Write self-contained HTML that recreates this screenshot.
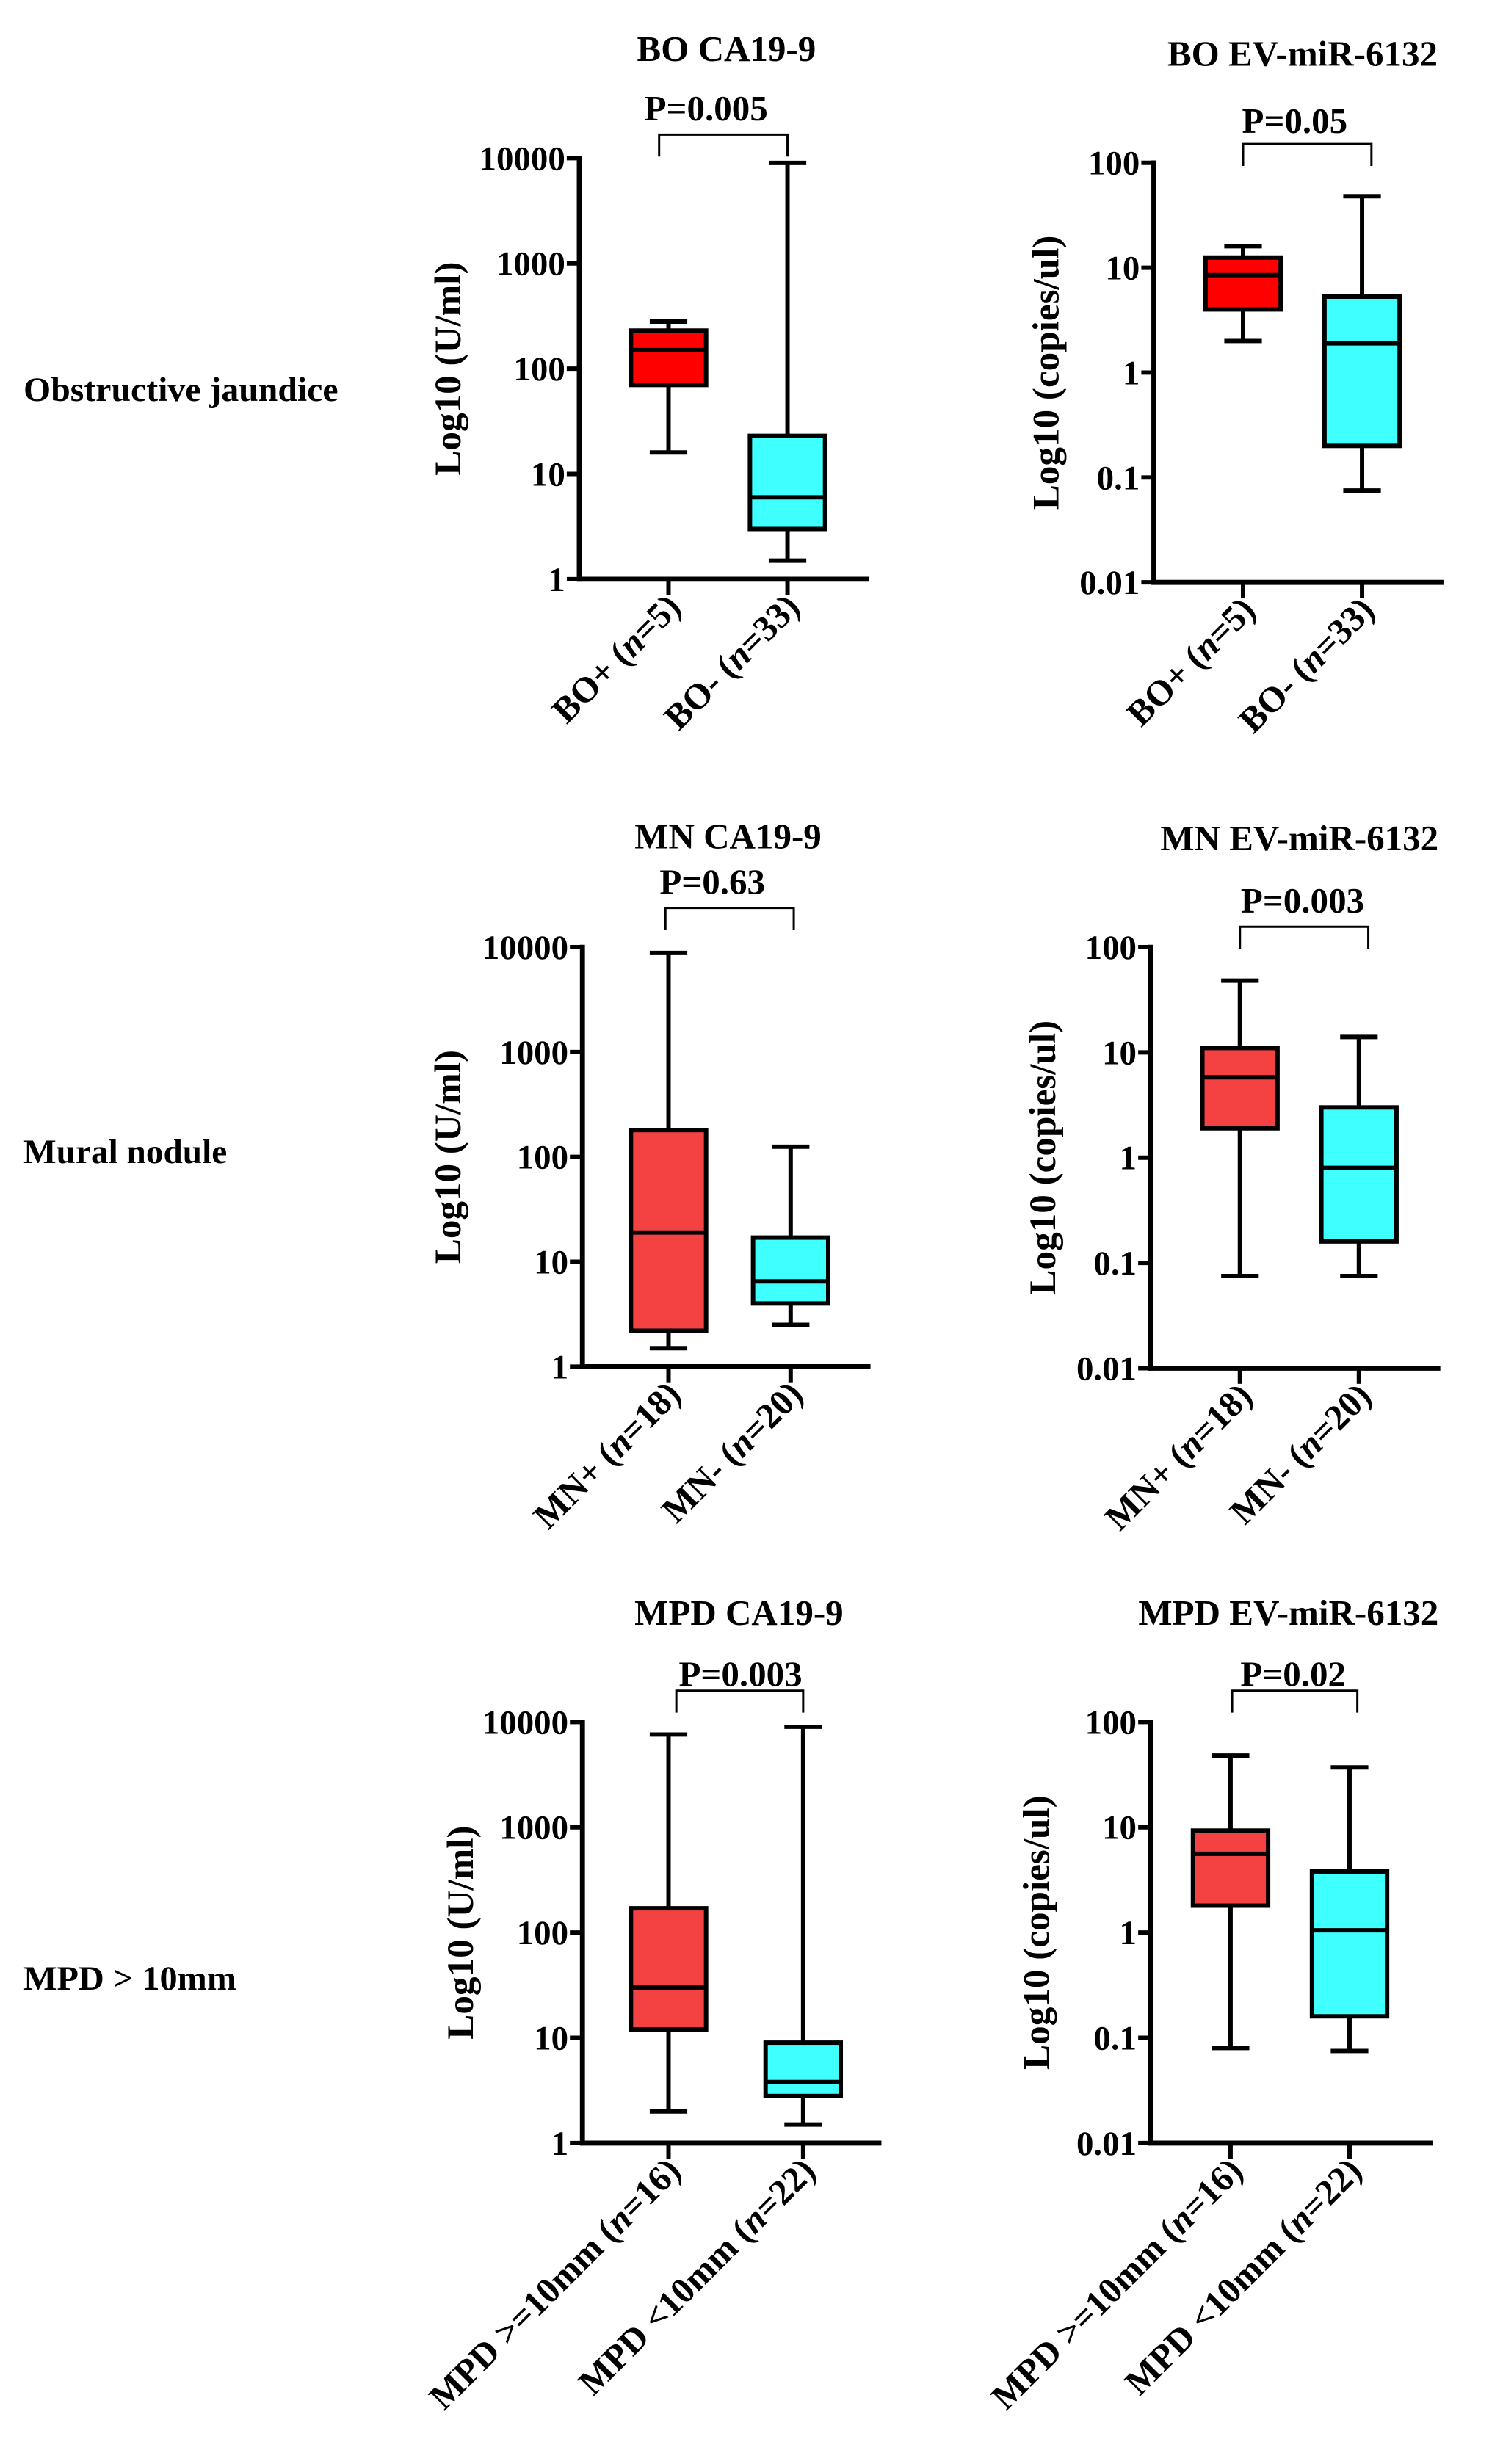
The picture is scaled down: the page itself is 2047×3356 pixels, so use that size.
<!DOCTYPE html>
<html><head><meta charset="utf-8"><style>
html,body{margin:0;padding:0;background:#fff;}
svg{display:block;}
text{font-family:"Liberation Serif",serif;font-weight:bold;fill:#000;}
</style></head><body>
<svg id="fig" width="2047" height="3356" viewBox="0 0 960 1574" xmlns="http://www.w3.org/2000/svg">
<text x="15" y="256" font-size="22" textLength="201" lengthAdjust="spacingAndGlyphs">Obstructive jaundice</text>
<text x="15" y="743" font-size="22" textLength="130" lengthAdjust="spacingAndGlyphs">Mural nodule</text>
<text x="15" y="1271" font-size="22" textLength="136" lengthAdjust="spacingAndGlyphs">MPD &gt; 10mm</text>
</svg>
<script>
// Panel data: [low whisker, Q1, median, Q3, high whisker]
const titles = ["BO CA19-9","BO EV-miR-6132","MN CA19-9","MN EV-miR-6132","MPD CA19-9","MPD EV-miR-6132"];
const pLabels = ["P=0.005","P=0.05","P=0.63","P=0.003","P=0.003","P=0.02"];
const catA = ["BO+","BO+","MN+","MN+","MPD >=10mm","MPD >=10mm"];
const catB = ["BO-","BO-","MN-","MN-","MPD <10mm","MPD <10mm"];
const nA = ["5","5","18","18","16","16"];
const nB = ["33","33","20","20","22","22"];
const groupA = [[16,70,150,230,280],[2,4,8.5,12.5,16],[1.5,2.2,19,180,8800],[0.075,1.9,5.8,11,48],[2,12,30,170,7600],[0.08,1.8,5.6,9.3,48]];
const groupB = [[1.5,3,6,23,9000],[0.075,0.2,1.9,5.3,48],[2.5,4,6.5,17,125],[0.075,0.16,0.8,3,14],[1.5,2.8,3.8,9,9000],[0.075,0.16,1.05,3.8,37]];
const ticksCA = ["1","10","100","1000","10000"];
const ticksEV = ["0.01","0.1","1","10","100"];

const L = [
 {ax:370,top:101,bot:370,end:555,cA:427,cB:503,ty:31,tx:464,py:69,px:451,by:86,b1:421,b2:503,lab:286,ev:false,colA:"#ff0000"},
 {ax:737,top:104,bot:372,end:922,cA:794,cB:870,ty:34,tx:832,py:77,px:827,by:92,b1:794,b2:876,lab:668,ev:true,colA:"#ff0000"},
 {ax:372,top:605,bot:873,end:556,cA:427,cB:505,ty:534,tx:465,py:563,px:455,by:580,b1:425,b2:507,lab:286,ev:false,colA:"#f44242"},
 {ax:735,top:605,bot:874,end:920,cA:792,cB:868,ty:535,tx:830,py:575,px:832,by:592,b1:792,b2:874,lab:666,ev:true,colA:"#f44242"},
 {ax:372,top:1100,bot:1369,end:563,cA:427,cB:513,ty:1030,tx:472,py:1069,px:473,by:1080,b1:432,b2:513,lab:294,ev:false,colA:"#f44242"},
 {ax:735,top:1100,bot:1369,end:915,cA:786,cB:862,ty:1030,tx:823,py:1069,px:826,by:1080,b1:787,b2:867,lab:662,ev:true,colA:"#f44242"}
];
const NS="http://www.w3.org/2000/svg";
const svg=document.getElementById('fig');
function mk(tag,attrs,parent){const e=document.createElementNS(NS,tag);for(const k in attrs)e.setAttribute(k,attrs[k]);(parent||svg).appendChild(e);return e;}
function line(g,x1,y1,x2,y2,w){return mk('line',{x1:x1,y1:y1,x2:x2,y2:y2,stroke:'#000','stroke-width':w},g);}

L.forEach((p,i)=>{
  const g=mk('g',{});
  
  
  const lo=p.ev?-2:0, hi=p.ev?2:4;
  const y=v=>p.bot-(Math.log10(v)-lo)/(hi-lo)*(p.bot-p.top);
  const t=mk('text',{x:p.tx,y:p.ty+8,'font-size':23,'text-anchor':'middle'},g);
  t.textContent=titles[i];
  
  
  const pt=mk('text',{x:p.px,y:p.py+8,'font-size':23,'text-anchor':'middle'},g);
  pt.textContent=pLabels[i];
  
  
  const br=mk('path',{d:`M${p.b1} ${p.by+14}V${p.by}H${p.b2}V${p.by+14}`,fill:'none',stroke:'#000','stroke-width':1.4},g);
  
  
  const ya=line(g,p.ax,p.top-1.5,p.ax,p.bot+1.5,3.2);
  
  
  const xa=line(g,p.ax-1.5,p.bot,p.end,p.bot,3.2);
  
  
  const tk=p.ev?ticksEV:ticksCA;
  tk.forEach((s,j)=>{
    const yy=y(parseFloat(s));
    line(g,p.ax-8,yy,p.ax,yy,2.8);
    const tl=mk('text',{x:p.ax-9,y:yy+7.5,'font-size':22,'text-anchor':'end'},g);
    tl.textContent=s;
    
    
  });
  const yl=mk('text',{x:0,y:0,'font-size':24,'text-anchor':'middle',transform:`translate(${p.lab+8},${(p.top+p.bot)/2}) rotate(-90)`},g);
  yl.textContent=p.ev?'Log10 (copies/ul)':'Log10 (U/ml)';
  
  
  [[p.cA,groupA[i],p.colA,catA[i],nA[i]],[p.cB,groupB[i],'#40ffff',catB[i],nB[i]]].forEach(([cx,d,col,cat,n],k)=>{
    const bg=mk('g',{},g);
    
    
    line(bg,cx,y(d[0]),cx,y(d[1]),2.8);
    line(bg,cx,y(d[3]),cx,y(d[4]),2.8);
    line(bg,cx-12,y(d[0]),cx+12,y(d[0]),2.8);
    line(bg,cx-12,y(d[4]),cx+12,y(d[4]),2.8);
    mk('rect',{x:cx-24,y:y(d[3]),width:48,height:y(d[1])-y(d[3]),fill:col,stroke:'#000','stroke-width':2.8},bg);
    line(bg,cx-24,y(d[2]),cx+24,y(d[2]),2.8);
    line(g,cx,p.bot,cx,p.bot+10,2.8);
    const cl=mk('text',{x:0,y:0,'font-size':23,'text-anchor':'end',transform:`translate(${cx+9},${p.bot+19}) rotate(-45)`},g);
    
    
    cl.appendChild(document.createTextNode(cat+' ('));
    const it=mk('tspan',{'font-style':'italic'},cl);it.textContent='n';
    cl.appendChild(document.createTextNode('='+n+')'));
  });
});
</script>
</body></html>
